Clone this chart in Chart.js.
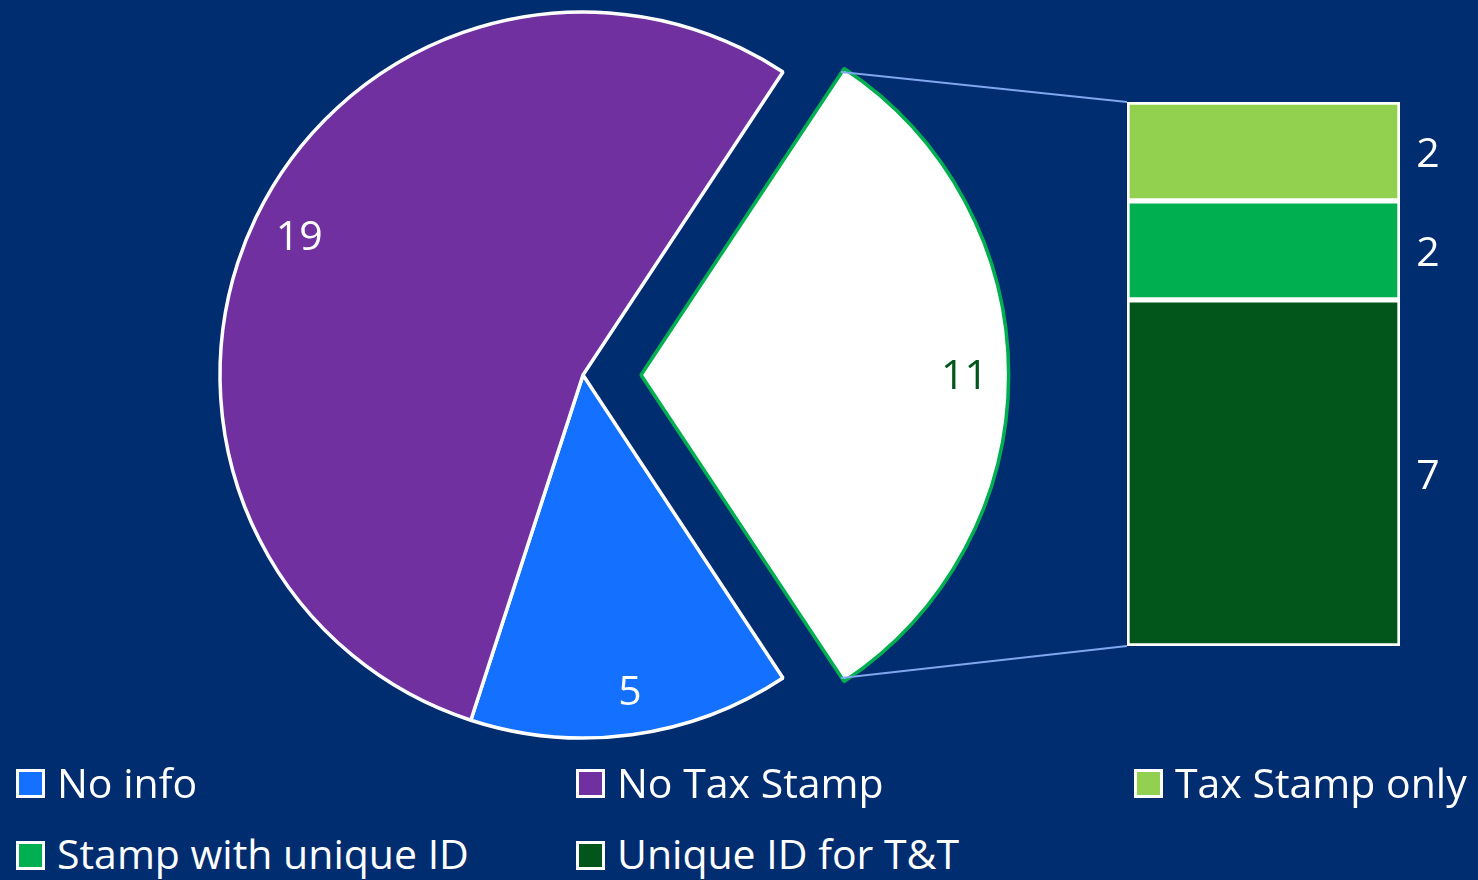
<!DOCTYPE html>
<html>
<head>
<meta charset="utf-8">
<script src="https://cdn.jsdelivr.net/npm/chart.js@4"></script>
<style>
  html, body { margin: 0; padding: 0; }
  body { width: 1478px; height: 880px; background: #002C70; position: relative; overflow: hidden; font-family: "Open Sans", sans-serif; }
  canvas { position: absolute; left: 0; top: 0; }
  .item { position: absolute; color: #fff; font-size: 41px; line-height: 56px; white-space: nowrap; }
  .box { position: absolute; width: 23px; height: 23px; border: 3px solid #fff; }
</style>
</head>
<body>
<canvas id="pieChart" width="1478" height="760"></canvas>
<canvas id="barChart" width="1478" height="760"></canvas>
<div id="legend"></div>
<script>
// pie: exploded "other" slice first, then the rest clockwise
const pieLabels = ["Other", "No info", "No Tax Stamp"];
const pieValues = [11, 5, 19];
const pieColors = ["#FFFFFF", "#1470FF", "#7030A0"];

// breakdown of "Other", bottom to top
const barLabels = ["Unique ID for T&T", "Stamp with unique ID", "Tax Stamp only"];
const barValues = [7, 2, 2];
const barColors = ["#02561B", "#00B050", "#92D050"];

const legendItems = [
  { text: "No info", color: "#1470FF", x: 16, row: 0 },
  { text: "No Tax Stamp", color: "#7030A0", x: 576, row: 0 },
  { text: "Tax Stamp only", color: "#92D050", x: 1134, row: 0 },
  { text: "Stamp with unique ID", color: "#00B050", x: 16, row: 1 },
  { text: "Unique ID for T&T", color: "#02561B", x: 576, row: 1 }
];

const FONT = "41px 'Open Sans'";
const total = pieValues.reduce((a, b) => a + b, 0);
const explode = 58;

// labels inside the pie slices
const pieLabelPlugin = {
  id: "pieLabels",
  afterDatasetsDraw(chart) {
    const ctx = chart.ctx;
    const arcs = chart.getDatasetMeta(0).data;
    ctx.save();
    ctx.font = FONT;
    ctx.textAlign = "center";
    ctx.textBaseline = "middle";
    arcs.forEach((arc, i) => {
      const mid = (arc.startAngle + arc.endAngle) / 2;
      const off = (arc.options.offset || 0) / 4;
      const r = arc.outerRadius * 0.88;
      const x = arc.x + Math.cos(mid) * (r + off);
      const y = arc.y + Math.sin(mid) * (r + off);
      ctx.fillStyle = i === 0 ? "#02561B" : "#FFFFFF";
      ctx.fillText(pieValues[i], x + 4, y + 2);
    });
    ctx.restore();
  }
};

const pieChart = new Chart(document.getElementById("pieChart"), {
  type: "pie",
  data: {
    labels: pieLabels,
    datasets: [{
      data: pieValues,
      backgroundColor: pieColors,
      borderColor: ["#00B050", "#FFFFFF", "#FFFFFF"],
      borderWidth: 3.5,
      offset: [explode * 4, 0, 0]
    }]
  },
  options: {
    responsive: false,
    animation: false,
    radius: 363,
    rotation: 90 - (pieValues[0] / total) * 180,
    layout: { padding: { left: 0, right: 312, top: 0, bottom: 10 } },
    plugins: { legend: { display: false }, tooltip: { enabled: false } }
  },
  plugins: [pieLabelPlugin]
});

// connector lines + value labels for the bar
const barPlugin = {
  id: "barExtras",
  beforeDatasetsDraw(chart) {
    const arc = pieChart.getDatasetMeta(0).data[0];
    const mid = (arc.startAngle + arc.endAngle) / 2;
    const off = (arc.options.offset || 0) / 4;
    const cx = arc.x + Math.cos(mid) * off;
    const cy = arc.y + Math.sin(mid) * off;
    const R = arc.outerRadius;
    const top = chart.getDatasetMeta(barValues.length - 1).data[0];
    const bottom = chart.getDatasetMeta(0).data[0];
    const left = top.x - top.width / 2;
    const ctx = chart.ctx;
    ctx.save();
    ctx.strokeStyle = "#7FA6EE";
    ctx.lineWidth = 2;
    ctx.beginPath();
    ctx.moveTo(cx + Math.cos(arc.startAngle) * R, cy + Math.sin(arc.startAngle) * R);
    ctx.lineTo(left, top.y);
    ctx.moveTo(cx + Math.cos(arc.endAngle) * R, cy + Math.sin(arc.endAngle) * R);
    ctx.lineTo(left, bottom.base);
    ctx.stroke();
    ctx.restore();
  },
  afterDatasetsDraw(chart) {
    const ctx = chart.ctx;
    ctx.save();
    ctx.font = FONT;
    ctx.fillStyle = "#FFFFFF";
    ctx.textAlign = "center";
    ctx.textBaseline = "middle";
    barValues.forEach((v, i) => {
      const bar = chart.getDatasetMeta(i).data[0];
      ctx.fillText(v, bar.x + bar.width / 2 + 28, (bar.y + bar.base) / 2 + 4);
    });
    ctx.restore();
  }
};

new Chart(document.getElementById("barChart"), {
  type: "bar",
  data: {
    labels: ["Other"],
    datasets: barValues.map((v, i) => ({
      label: barLabels[i],
      data: [v],
      backgroundColor: barColors[i],
      borderColor: "#FFFFFF",
      borderWidth: 3,
      borderSkipped: false,
      barPercentage: 1,
      categoryPercentage: 1
    }))
  },
  options: {
    responsive: false,
    animation: false,
    layout: { padding: { left: 1127, right: 78, top: 102, bottom: 114 } },
    scales: {
      x: { stacked: true, display: false },
      y: { stacked: true, display: false, min: 0, max: total - pieValues[1] - pieValues[2] }
    },
    plugins: { legend: { display: false }, tooltip: { enabled: false } }
  },
  plugins: [barPlugin]
});

// legend
const legend = document.getElementById("legend");
legendItems.forEach(it => {
  const box = document.createElement("div");
  box.className = "box";
  box.style.left = it.x + "px";
  box.style.top = (it.row === 0 ? 769 : 841) + "px";
  box.style.background = it.color;
  legend.appendChild(box);
  const txt = document.createElement("div");
  txt.className = "item";
  txt.style.left = (it.x + 41) + "px";
  txt.style.top = (it.row === 0 ? 754 : 825) + "px";
  txt.textContent = it.text;
  legend.appendChild(txt);
});
</script>
</body>
</html>
